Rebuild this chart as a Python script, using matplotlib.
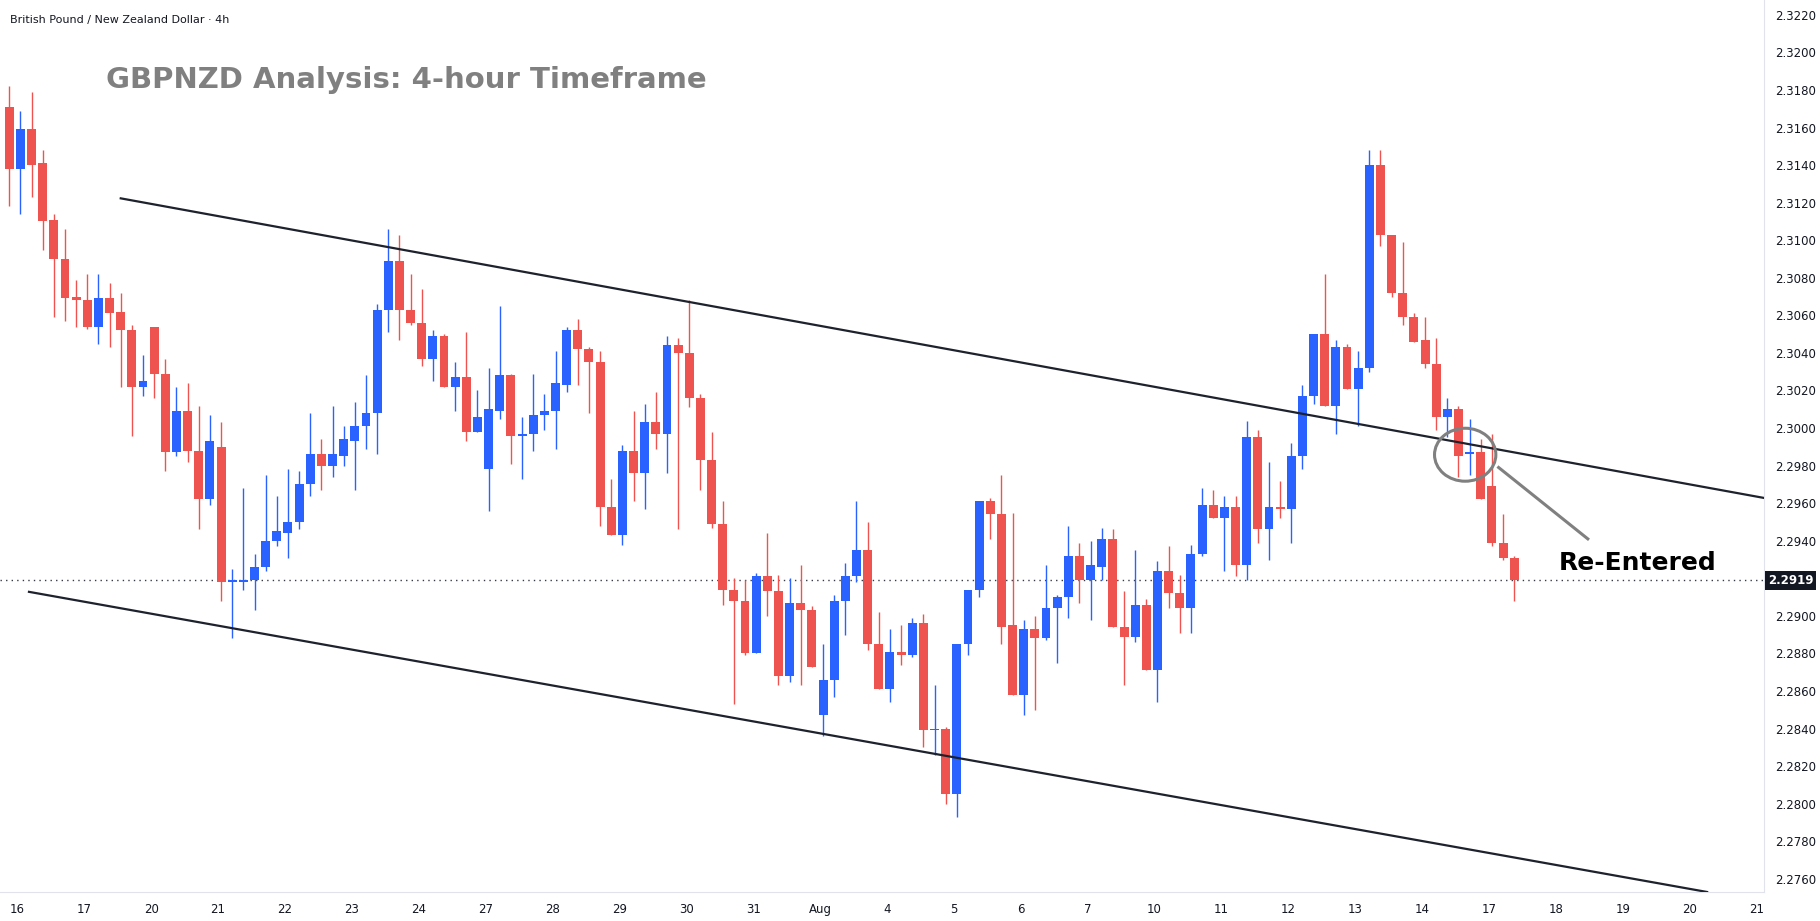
import matplotlib
matplotlib.use("Agg")
import matplotlib.pyplot as plt
from matplotlib.patches import Ellipse
import numpy as np

# ---- data: 4h candles (open, high, low, close) ----
opens = [2.3171,2.3138,2.3159,2.3141,2.3111,2.3090,2.3070,2.3068,2.3054,2.3069,
         2.3062,2.3052,2.3022,2.3054,2.3029,2.2987,2.3009,2.2988,2.2962,2.2990,
         2.2918,2.2918,2.2919,2.2926,2.2940,2.2944,2.2950,2.2970,2.2986,2.2980,
         2.2985,2.2993,2.3001,2.3008,2.3063,2.3089,2.3063,2.3056,2.3037,2.3049,
         2.3022,2.3027,2.2998,2.2978,2.3009,2.3028,2.2996,2.2997,2.3007,2.3009,
         2.3023,2.3052,2.3042,2.3035,2.2958,2.2943,2.2988,2.2976,2.3003,2.2997,
         2.3044,2.3040,2.3016,2.2983,2.2949,2.2914,2.2908,2.2880,2.2921,2.2913,
         2.2868,2.2907,2.2903,2.2847,2.2866,2.2908,2.2921,2.2935,2.2885,2.2861,
         2.2881,2.2879,2.2896,2.2839,2.2840,2.2805,2.2885,2.2914,2.2961,2.2954,
         2.2895,2.2858,2.2893,2.2888,2.2904,2.2910,2.2932,2.2919,2.2926,2.2941,
         2.2894,2.2889,2.2906,2.2871,2.2924,2.2912,2.2904,2.2933,2.2959,2.2952,
         2.2958,2.2927,2.2995,2.2946,2.2958,2.2957,2.2985,2.3017,2.3050,2.3012,
         2.3043,2.3021,2.3032,2.3140,2.3103,2.3072,2.3059,2.3047,2.3034,2.3006,
         2.3010,2.2986,2.2987,2.2969,2.2939,2.2931]
highs = [2.3182,2.3169,2.3179,2.3148,2.3114,2.3106,2.3079,2.3082,2.3082,2.3077,
         2.3072,2.3055,2.3039,2.3054,2.3037,2.3022,2.3024,2.3012,2.3007,2.3003,
         2.2925,2.2968,2.2933,2.2975,2.2964,2.2978,2.2977,2.3008,2.2994,2.3012,
         2.3001,2.3014,2.3028,2.3066,2.3106,2.3103,2.3082,2.3074,2.3052,2.3050,
         2.3035,2.3051,2.3020,2.3032,2.3065,2.3029,2.3006,2.3029,2.3018,2.3041,
         2.3054,2.3058,2.3043,2.3041,2.2973,2.2991,2.3009,2.3013,2.3019,2.3049,
         2.3048,2.3068,2.3018,2.2998,2.2961,2.2920,2.2919,2.2923,2.2944,2.2922,
         2.2920,2.2927,2.2905,2.2885,2.2911,2.2928,2.2961,2.2950,2.2902,2.2893,
         2.2895,2.2899,2.2901,2.2863,2.2841,2.2840,2.2904,2.2924,2.2963,2.2975,
         2.2955,2.2898,2.2900,2.2927,2.2911,2.2948,2.2939,2.2940,2.2947,2.2946,
         2.2913,2.2935,2.2909,2.2929,2.2937,2.2922,2.2938,2.2968,2.2967,2.2964,
         2.2964,2.3004,2.2999,2.2982,2.2972,2.2992,2.3023,2.3050,2.3082,2.3047,
         2.3045,2.3041,2.3148,2.3148,2.3103,2.3099,2.3061,2.3059,2.3048,2.3016,
         2.3012,2.3005,2.2994,2.2997,2.2954,2.2932]
lows  = [2.3118,2.3114,2.3123,2.3095,2.3059,2.3057,2.3054,2.3053,2.3045,2.3043,
         2.3022,2.2996,2.3017,2.3016,2.2977,2.2985,2.2982,2.2946,2.2959,2.2908,
         2.2888,2.2914,2.2903,2.2924,2.2937,2.2931,2.2946,2.2964,2.2967,2.2974,
         2.2980,2.2967,2.2989,2.2986,2.3051,2.3047,2.3055,2.3033,2.3025,2.3022,
         2.3009,2.2993,2.2998,2.2956,2.3005,2.2981,2.2973,2.2988,2.2999,2.2989,
         2.3019,2.3023,2.3008,2.2948,2.2943,2.2938,2.2961,2.2957,2.2989,2.2976,
         2.2946,2.3011,2.2967,2.2947,2.2906,2.2853,2.2879,2.2880,2.2900,2.2863,
         2.2865,2.2863,2.2873,2.2836,2.2857,2.2890,2.2918,2.2882,2.2861,2.2854,
         2.2874,2.2878,2.2830,2.2826,2.2800,2.2793,2.2879,2.2910,2.2941,2.2885,
         2.2858,2.2847,2.2850,2.2887,2.2875,2.2899,2.2907,2.2898,2.2919,2.2894,
         2.2863,2.2886,2.2871,2.2854,2.2904,2.2891,2.2891,2.2932,2.2952,2.2924,
         2.2921,2.2919,2.2939,2.2930,2.2952,2.2939,2.2978,2.3013,2.3012,2.2997,
         2.3021,2.3001,2.3030,2.3097,2.3070,2.3055,2.3046,2.3032,2.2999,2.2995,
         2.2974,2.2975,2.2962,2.2937,2.2930,2.2908]
closes = [2.3138,2.3159,2.3140,2.3110,2.3090,2.3069,2.3068,2.3054,2.3069,2.3061,
          2.3052,2.3022,2.3025,2.3029,2.2987,2.3009,2.2988,2.2962,2.2993,2.2918,
          2.2919,2.2919,2.2926,2.2940,2.2945,2.2950,2.2970,2.2986,2.2980,2.2986,
          2.2994,2.3001,2.3008,2.3063,2.3089,2.3063,2.3056,2.3037,2.3049,2.3022,
          2.3027,2.2998,2.3006,2.3010,2.3028,2.2996,2.2997,2.3007,2.3009,2.3024,
          2.3052,2.3042,2.3035,2.2958,2.2943,2.2988,2.2976,2.3003,2.2997,2.3044,
          2.3040,2.3016,2.2983,2.2949,2.2914,2.2908,2.2880,2.2921,2.2913,2.2868,
          2.2907,2.2903,2.2873,2.2866,2.2908,2.2921,2.2935,2.2885,2.2861,2.2881,
          2.2879,2.2896,2.2839,2.2840,2.2805,2.2885,2.2914,2.2961,2.2954,2.2894,
          2.2858,2.2893,2.2888,2.2904,2.2910,2.2932,2.2919,2.2927,2.2941,2.2894,
          2.2889,2.2906,2.2871,2.2924,2.2912,2.2904,2.2933,2.2959,2.2952,2.2958,
          2.2927,2.2995,2.2946,2.2958,2.2957,2.2985,2.3017,2.3050,2.3012,2.3043,
          2.3021,2.3032,2.3140,2.3103,2.3072,2.3059,2.3046,2.3034,2.3006,2.3010,
          2.2985,2.2987,2.2962,2.2939,2.2931,2.2919]

day_labels = ["16","17","20","21","22","23","24","27","28","29","30","31","Aug",
              "4","5","6","7","10","11","12","13","14","17","18","19","20","21"]
price_ticks = [2.2760 + 0.002 * k for k in range(24)]
last_price = 2.2919

# channel trendlines (index, price)
upper_line = ([10.0, 157.4], [2.31223, 2.29628])
lower_line = ([1.77, 152.3], [2.29128, 2.2753])
pointer_line = ([133.6, 141.6], [2.2979, 2.2941])

UP = "#2962FF"
DN = "#EF5350"

fig = plt.figure(figsize=(18.2, 9.21), dpi=100)
ax = fig.add_axes([0.0, 0.0315, 0.9692, 0.9685])
ax.set_xlim(-0.83, 157.4)
ax.set_ylim(2.27530, 2.32279)

o = np.array(opens); h = np.array(highs); l = np.array(lows); c = np.array(closes)
x = np.arange(len(o))
cols = np.where(c >= o, UP, DN)
ax.vlines(x, l, h, colors=cols, linewidth=1.0, zorder=2)
bottom = np.minimum(o, c)
height = np.maximum(np.abs(c - o), 0.00005)
ax.bar(x, height, bottom=bottom, width=0.8, color=cols, zorder=3, linewidth=0)

# trendlines
ax.plot(*upper_line, color="#1e222d", linewidth=1.6, zorder=4)
ax.plot(*lower_line, color="#1e222d", linewidth=1.6, zorder=4)

# last price dotted line
ax.axhline(last_price, color="#363a45", linestyle=(0, (1, 3)), linewidth=1.0, zorder=1)

# circle + pointer
ax.add_patch(Ellipse((130.6, 2.29858), width=5.5, height=0.00282,
                     fill=False, edgecolor="#808080", linewidth=2.2, zorder=5))
ax.plot(*pointer_line, color="#808080", linewidth=2.2, zorder=5)
ax.text(139.0, 2.2928, "Re-Entered", fontsize=18, fontweight="bold", color="black",
        va="center", ha="left", zorder=6)

# titles
fig.text(10 / 1820, 1 - 20 / 921, "British Pound / New Zealand Dollar · 4h",
         fontsize=8, color="#131722", va="center", ha="left")
fig.text(106 / 1820, 1 - 80 / 921, "GBPNZD Analysis: 4-hour Timeframe",
         fontsize=21, fontweight="bold", color="#808080", va="center", ha="left")

# axes styling
ax.set_xticks([0.73 + 6.0 * k for k in range(len(day_labels))])
ax.set_xticklabels(day_labels, fontsize=8.5, color="#131722")
ax.yaxis.tick_right()
ax.set_yticks(price_ticks)
ax.set_yticklabels([f"{p:.4f}" for p in price_ticks], fontsize=8.5, color="#131722")
ax.tick_params(axis="both", length=0, pad=8)
for s in ["top", "left"]:
    ax.spines[s].set_visible(False)
for s in ["right", "bottom"]:
    ax.spines[s].set_color("#e0e3eb")

fig.text(0.9692 + 4 / 1820, ax.transData.transform((0, last_price))[1] / 921,
         f"{last_price:.4f}", fontsize=8.5, fontweight="bold", color="white",
         va="center", ha="left",
         bbox=dict(boxstyle="square,pad=0.25", facecolor="#131722", edgecolor="none"),
         zorder=10)

fig.savefig("out.png", dpi=100)
